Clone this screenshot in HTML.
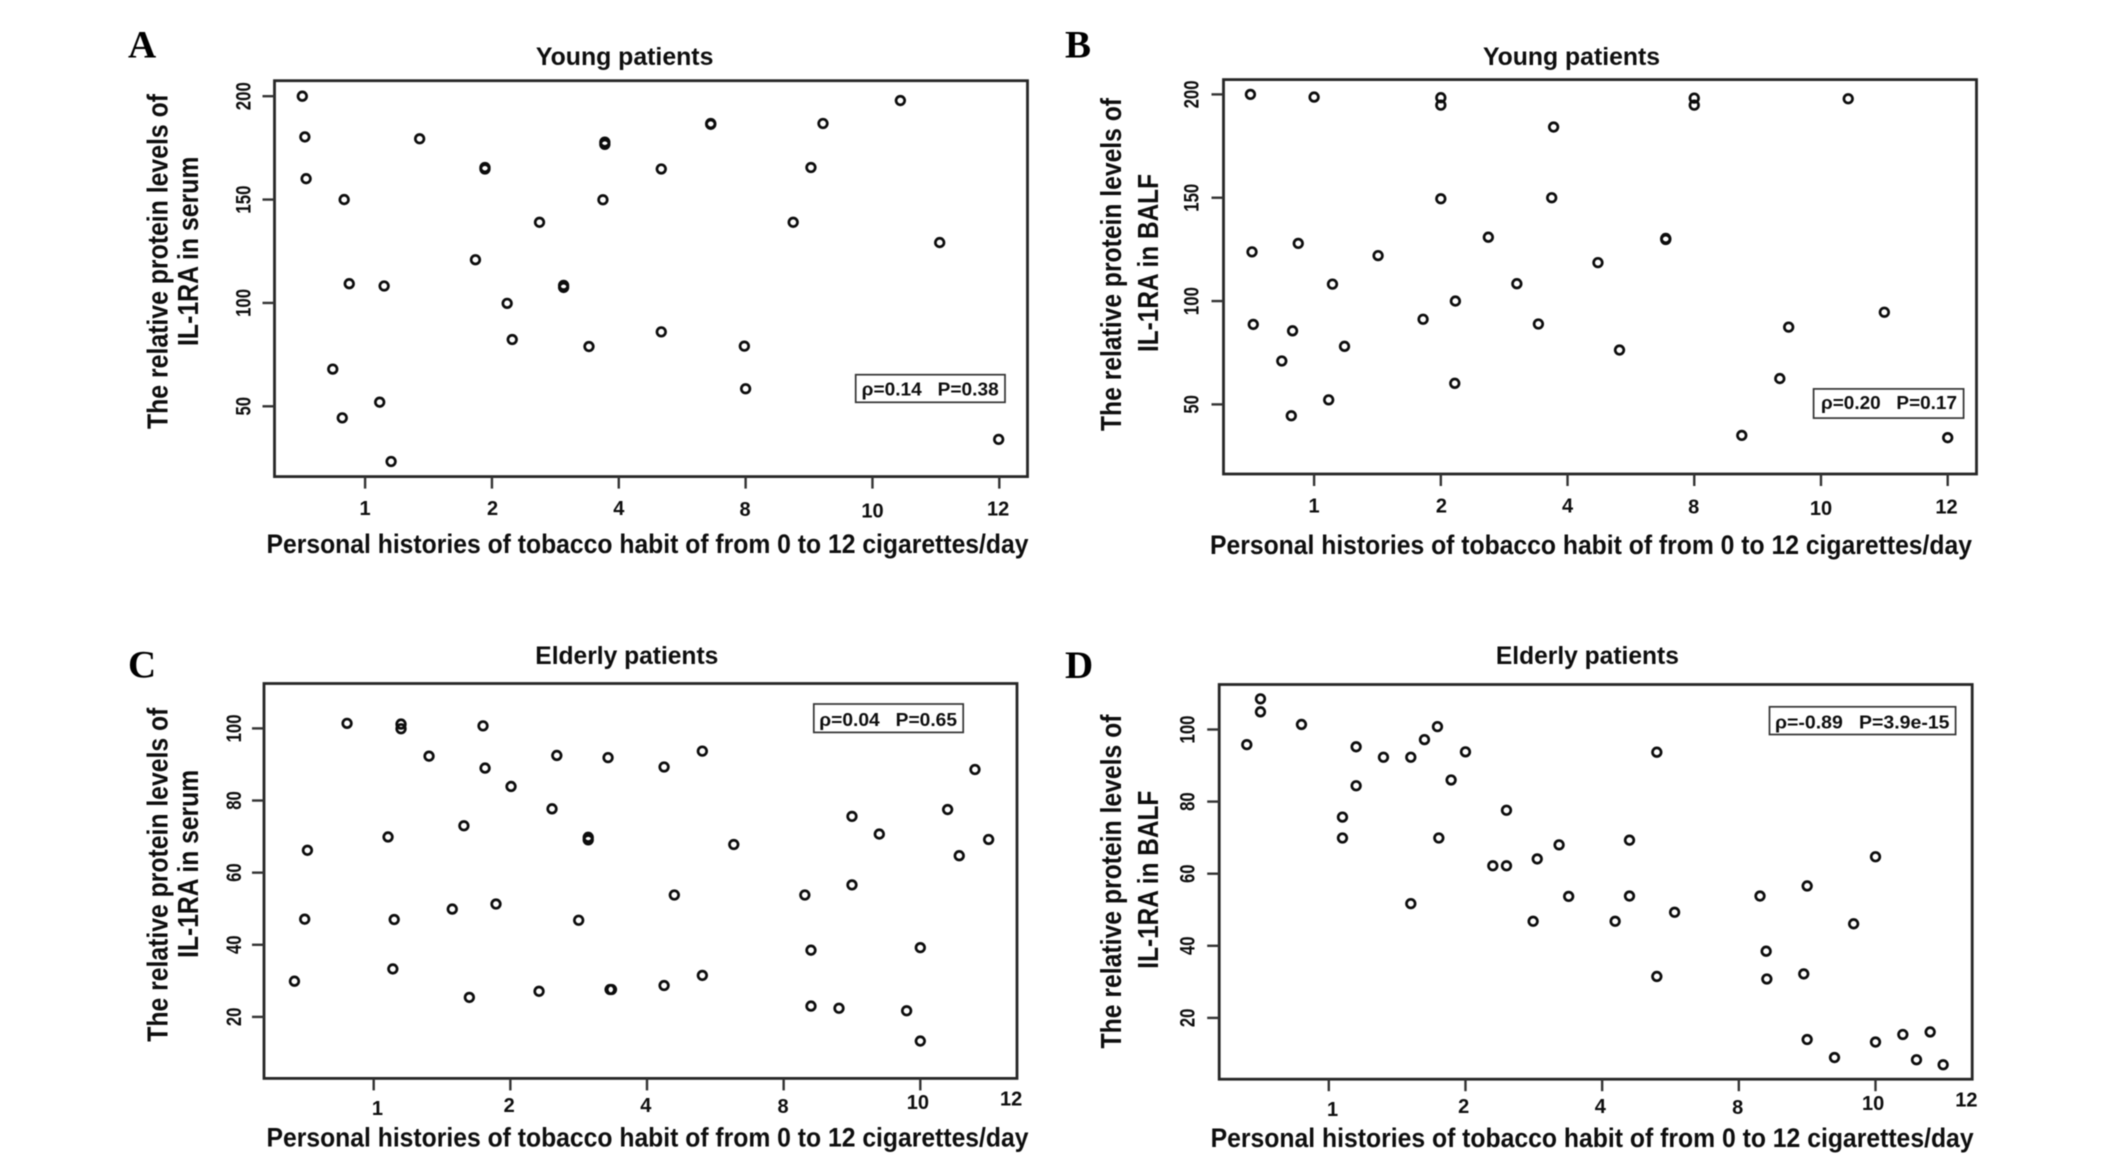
<!DOCTYPE html>
<html lang="en">
<head>
<meta charset="utf-8">
<title>IL-1RA protein levels versus tobacco habit</title>
<style>
html,body{margin:0;padding:0;background:#fff;width:2126px;height:1164px;overflow:hidden}
svg{display:block;filter:blur(.5px)}
text{font-family:"Liberation Sans",sans-serif;font-weight:bold;fill:#0e0e0e;white-space:pre}
.letter{font-family:"Liberation Serif",serif;font-size:39px;fill:#000}
.title{font-size:25px}
.xlabel{font-size:26.5px}
.ylabel{font-size:29px}
.stat{font-size:18.5px}
.tick{font-size:20px}
.ytick{font-size:21px}
</style>
</head>
<body>
<svg id="figure" width="2126" height="1164" viewBox="0 0 2126 1164" xmlns="http://www.w3.org/2000/svg">
  <rect width="2126" height="1164" fill="#fff"/>

  <text class="letter" x="128" y="57.4">A</text>
  <text class="letter" x="1065" y="57.4">B</text>
  <text class="letter" x="128" y="677.6">C</text>
  <text class="letter" x="1065" y="678">D</text>

  <g id="panel-a">
    <text class="title" x="535.9" y="64.8" textLength="177.5" lengthAdjust="spacingAndGlyphs">Young patients</text>
    <text class="xlabel" x="266.5" y="553" textLength="762" lengthAdjust="spacingAndGlyphs">Personal histories of tobacco habit of from 0 to 12 cigarettes/day</text>
    <text class="ylabel" transform="translate(167.3 429) rotate(-90)" textLength="335" lengthAdjust="spacingAndGlyphs">The relative protein levels of</text>
    <text class="ylabel" transform="translate(198 346) rotate(-90)" textLength="189.5" lengthAdjust="spacingAndGlyphs">IL-1RA in serum</text>
  </g>
  <g id="panel-b">
    <text class="title" x="1483" y="64.8" textLength="177" lengthAdjust="spacingAndGlyphs">Young patients</text>
    <text class="xlabel" x="1210" y="554" textLength="762" lengthAdjust="spacingAndGlyphs">Personal histories of tobacco habit of from 0 to 12 cigarettes/day</text>
    <text class="ylabel" transform="translate(1121.2 431) rotate(-90)" textLength="333" lengthAdjust="spacingAndGlyphs">The relative protein levels of</text>
    <text class="ylabel" transform="translate(1158 352) rotate(-90)" textLength="178" lengthAdjust="spacingAndGlyphs">IL-1RA in BALF</text>
  </g>
  <g id="panel-c">
    <text class="title" x="535.3" y="664" textLength="183" lengthAdjust="spacingAndGlyphs">Elderly patients</text>
    <text class="xlabel" x="266.5" y="1146.7" textLength="762" lengthAdjust="spacingAndGlyphs">Personal histories of tobacco habit of from 0 to 12 cigarettes/day</text>
    <text class="ylabel" transform="translate(167.3 1041.7) rotate(-90)" textLength="334" lengthAdjust="spacingAndGlyphs">The relative protein levels of</text>
    <text class="ylabel" transform="translate(198 957.9) rotate(-90)" textLength="188" lengthAdjust="spacingAndGlyphs">IL-1RA in serum</text>
  </g>
  <g id="panel-d">
    <text class="title" x="1495.9" y="664" textLength="183" lengthAdjust="spacingAndGlyphs">Elderly patients</text>
    <text class="xlabel" x="1210.6" y="1147" textLength="763" lengthAdjust="spacingAndGlyphs">Personal histories of tobacco habit of from 0 to 12 cigarettes/day</text>
    <text class="ylabel" transform="translate(1121 1048.5) rotate(-90)" textLength="334" lengthAdjust="spacingAndGlyphs">The relative protein levels of</text>
    <text class="ylabel" transform="translate(1158 968.7) rotate(-90)" textLength="178" lengthAdjust="spacingAndGlyphs">IL-1RA in BALF</text>
  </g>
</svg>

<script>
// Axis contents
const xTickLabels = ['1', '2', '4', '8', '10', '12'];
const xTickUnitsYoung = [2, 4, 6, 8, 10, 12];
const xTickUnitsElderly = [2, 4, 6, 8, 10, 11.33];
const yTicksYoung = [200, 150, 100, 50];
const yTicksElderly = [100, 80, 60, 40, 20];

// Panel A: young patients, serum
const aX = [1.01,1.05,1.07,1.67,1.75,2.30,1.49,1.64,2.23,2.41,2.86,3.89,3.89,3.74,4.24,4.32,4.75,5.13,5.13,5.78,5.78,5.75,5.53,6.67,6.67,7.45,7.45,7.98,8.00,8.75,9.03,9.22,10.44,11.06,11.99];
const aY = [200,180.3,160.1,150,109.3,108.2,68,44.4,52,23.3,179.4,165.5,164.8,120.9,99.8,82.3,139,107.5,108.5,176.7,177.8,149.9,78.9,164.8,86,186.8,186.4,79.1,58.5,139,165.5,186.8,197.9,129.2,34];

// Panel B: young patients, BALF
const bX = [0.995,2.0,4.0,4.0,8.0,8.0,10.43,5.78,4.0,5.75,4.75,7.55,7.55,1.02,1.75,3.01,6.48,2.29,5.2,4.23,1.04,1.66,3.72,5.54,9.49,11.0,2.48,1.49,6.82,4.22,9.35,2.23,1.64,8.75,12];
const bY = [200,198.7,198.4,194.8,198.2,194.8,197.9,184.2,149.5,150,130.9,129.8,130.3,123.8,127.9,122,118.6,108.2,108.4,100,88.7,85.6,91.2,88.9,87.4,94.6,78.1,71,76.3,60.2,62.5,52.2,44.5,35,33.9];

// Panel C: elderly patients, serum
const cX = [1.61,2.40,2.40,3.60,2.81,4.68,5.43,6.25,6.81,3.63,4.01,4.61,3.32,2.21,5.14,5.14,1.03,7.27,9.0,9.40,10.40,10.57,10.80,11.0,8.31,9.0,6.40,0.99,2.30,3.15,3.79,5.0,8.40,10,0.84,2.28,3.40,4.42,5.46,5.48,6.25,6.81,8.40,8.81,9.80,10];
const cY = [101.4,101.2,99.9,100.7,92.3,92.5,91.9,89.3,93.7,89,83.9,77.7,73,69.9,69.8,69.1,66.2,67.8,75.6,70.7,77.5,64.7,88.6,69.2,53.8,56.6,53.8,47.1,47,49.9,51.3,46.8,38.5,39.2,29.9,33.3,25.4,27.1,27.6,27.6,28.7,31.5,23,22.4,21.7,13.3];

// Panel D: elderly patients, BALF
const dX = [1.0,1.0,0.80,1.60,2.40,2.80,3.20,3.40,3.59,4.0,3.79,2.40,2.20,2.20,3.61,4.60,6.80,4.40,4.60,5.05,5.37,6.40,3.20,5.51,6.40,4.99,6.19,7.06,6.80,8.31,9.0,10,9.68,8.40,8.41,8.95,9.0,9.40,10,10.40,10.80,10.60,10.99];
const dY = [108.5,104.9,95.8,101.4,95.2,92.3,92.3,97.2,100.8,93.8,86,84.4,75.7,69.9,69.9,77.6,93.7,62.2,62.2,64.1,68,69.3,51.7,53.7,53.8,46.8,46.8,49.3,31.5,53.8,56.6,64.7,46.1,38.5,30.8,32.2,14,9,13.3,15.4,16.1,8.4,7];

const SVG_NS = 'http://www.w3.org/2000/svg';

function make(tag, attrs, parent) {
  const el = document.createElementNS(SVG_NS, tag);
  for (const k in attrs) el.setAttribute(k, attrs[k]);
  parent.appendChild(el);
  return el;
}

function drawPanel(cfg) {
  const g = document.getElementById(cfg.id);
  const xScale = u => cfg.xA + (u - cfg.uA) * (cfg.xB - cfg.xA) / (cfg.uB - cfg.uA);
  const yScale = v => cfg.yA + (v - cfg.vA) * (cfg.yB - cfg.yA) / (cfg.vB - cfg.vA);

  const frame = make('rect', {x: cfg.L, y: cfg.T, width: cfg.R - cfg.L, height: cfg.B - cfg.T, fill: 'none', stroke: '#262626', 'stroke-width': 2.8}, g);
  
  

  cfg.xUnits.forEach((u, i) => {
    const x = xScale(u);
    if (i < cfg.markedTicks) {
      const t = make('line', {x1: x, x2: x, y1: cfg.B, y2: cfg.B + 12, stroke: '#333', 'stroke-width': 2.4}, g);
      
      
    }
    const lab = make('text', {class: 'tick', x: x + cfg.xNudge[i], y: cfg.xBase[i], 'text-anchor': 'middle'}, g);
    
    
    lab.textContent = xTickLabels[i];
  });

  cfg.yTicks.forEach(v => {
    const y = yScale(v);
    const t = make('line', {x1: cfg.L - 12, x2: cfg.L, y1: y, y2: y, stroke: '#333', 'stroke-width': 2.4}, g);
    
    
    const s = String(v);
    const len = s.length === 3 ? 28 : 18.5;
    const lab = make('text', {class: 'ytick', transform: 'translate(' + cfg.yLabelX + ' ' + (y + len / 2) + ') rotate(-90)', textLength: len, lengthAdjust: 'spacingAndGlyphs'}, g);
    
    
    lab.textContent = s;
  });

  cfg.xs.forEach((u, i) => {
    const c = make('circle', {cx: xScale(u), cy: yScale(cfg.ys[i]), r: 4.3, fill: 'none', stroke: '#0c0c0c', 'stroke-width': 2.7}, g);
    
    
  });

  const box = make('rect', {x: cfg.box[0], y: cfg.box[1], width: cfg.box[2] - cfg.box[0], height: cfg.box[3] - cfg.box[1], fill: '#fff', stroke: '#333', 'stroke-width': 1.7}, g);
  
  
  const st = make('text', {class: 'stat', x: cfg.stat[0], y: cfg.stat[1], textLength: cfg.stat[2], lengthAdjust: 'spacingAndGlyphs'}, g);
  
  
  st.textContent = cfg.statText;
}

drawPanel({id: 'panel-a', xs: aX, ys: aY, xUnits: xTickUnitsYoung, yTicks: yTicksYoung, markedTicks: 6,
  L: 274.5, R: 1027.5, T: 80.7, B: 476.6,
  uA: 2, xA: 365.1, uB: 12, xB: 999.3, vA: 200, yA: 96.2, vB: 50, yB: 406.3,
  yLabelX: 250.6, xNudge: [0, .6, 0, -.6, 0, -1.2], xBase: [515, 515, 515, 515.8, 517.3, 515.4],
  box: [855.7, 374.7, 1005, 402.3], stat: [861.7, 395.7, 137], statText: 'ρ=0.14   P=0.38'});

drawPanel({id: 'panel-b', xs: bX, ys: bY, xUnits: xTickUnitsYoung, yTicks: yTicksYoung, markedTicks: 6,
  L: 1223.5, R: 1976.5, T: 79.6, B: 474,
  uA: 2, xA: 1314.1, uB: 12, xB: 1947.7, vA: 200, yA: 94.4, vB: 50, yB: 404.4,
  yLabelX: 1198.4, xNudge: [0, .6, 0, -.6, 0, -1.2], xBase: [512.5, 512.5, 512.5, 513.6, 515, 513.6],
  box: [1813.6, 388.9, 1963.6, 418.1], stat: [1821, 408.9, 136], statText: 'ρ=0.20   P=0.17'});

drawPanel({id: 'panel-c', xs: cX, ys: cY, xUnits: xTickUnitsElderly, yTicks: yTicksElderly, markedTicks: 5,
  L: 264, R: 1017, T: 683.5, B: 1078.4,
  uA: 2, xA: 373.7, uB: 10, xB: 920.3, vA: 100, yA: 728.4, vB: 20, yB: 1016.9,
  yLabelX: 240.8, xNudge: [3.7, -1.2, -1.2, -.6, -2.4, 0], xBase: [1115, 1112.2, 1112.2, 1113, 1109, 1105.4],
  box: [813.8, 704, 963.2, 732.4], stat: [819.3, 725.9, 137.7], statText: 'ρ=0.04   P=0.65'});

drawPanel({id: 'panel-d', xs: dX, ys: dY, xUnits: xTickUnitsElderly, yTicks: yTicksElderly, markedTicks: 5,
  L: 1219.2, R: 1972.2, T: 684.5, B: 1079.2,
  uA: 2, xA: 1328.8, uB: 10, xB: 1875.5, vA: 100, yA: 729.5, vB: 20, yB: 1017.9,
  yLabelX: 1194.7, xNudge: [3.7, -1.8, -1.8, -1.2, -2.4, 0], xBase: [1116, 1113, 1113, 1113.8, 1110, 1106.5],
  box: [1769.5, 706.8, 1955.6, 734.5], stat: [1775, 728.4, 174.5], statText: 'ρ=-0.89   P=3.9e-15'});
</script>
</body>
</html>
